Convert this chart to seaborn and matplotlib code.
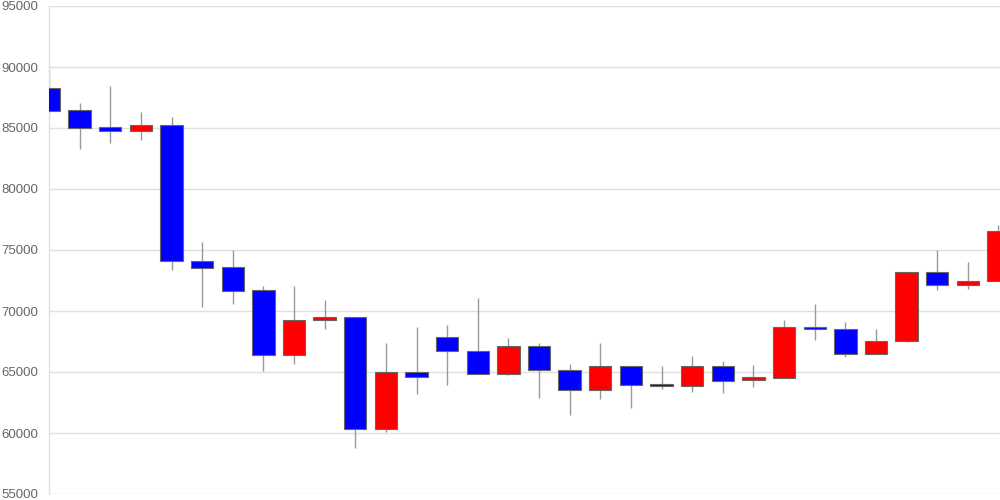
import matplotlib
matplotlib.use("Agg")
import matplotlib.pyplot as plt
import seaborn as sns
import numpy as np
import pandas as pd

# daily candles (open, close, high, low)
opens = [88250, 86450, 85080, 84730, 85245, 74120, 73580, 71700, 66400, 69240,
         69480, 60300, 64975, 67840, 66700, 64800, 67100, 65140, 63550, 65510,
         63990, 63880, 65470, 64320, 64540, 68710, 68550, 66450, 67540, 73220,
         72160, 72460]
closes = [86400, 85020, 84730, 85245, 74100, 73550, 71660, 66400, 69260, 69480,
          60300, 64975, 64620, 66700, 64810, 67110, 65140, 63550, 65510, 63930,
          63880, 65470, 64300, 64560, 68710, 68550, 66450, 67560, 73220, 72160,
          72460, 76560]
highs = [89750, 87020, 88440, 86310, 85900, 75630, 75000, 72020, 72020, 70900,
         69480, 67400, 68710, 68820, 71040, 67760, 67350, 65630, 67350, 65510,
         65490, 66310, 65900, 65570, 69260, 70570, 69100, 68520, 73220, 75000,
         73990, 77050]
lows = [86070, 83300, 83800, 84020, 73390, 70350, 70570, 65110, 65660, 68500,
        58740, 60110, 63170, 63960, 64810, 64780, 62890, 61500, 62760, 62070,
        63630, 63400, 63240, 63750, 64540, 67620, 66200, 66450, 67460, 71700,
        71830, 72460]

df = pd.DataFrame({"open": opens, "close": closes, "high": highs, "low": lows})
df["x"] = np.arange(len(df))
df["color"] = np.where(df["close"] >= df["open"], "#ff0000", "#0000ff")

sns.set_theme(style="whitegrid")
plt.rcParams["font.family"] = ["Liberation Sans", "DejaVu Sans"]

fig = plt.figure(figsize=(10, 5), dpi=100)
ax = fig.add_axes([0.049, 0.012, 0.951, 0.976])

# wicks
ax.vlines(df["x"], df["low"], df["high"], color="#999999", linewidth=1, zorder=2)
# bodies
body_lo = df[["open", "close"]].min(axis=1)
body_h = (df["open"] - df["close"]).abs().clip(lower=150)
ax.bar(df["x"], body_h, bottom=body_lo, width=0.73, color=df["color"],
       edgecolor="#666666", linewidth=0.8, zorder=3)

ax.set_xlim(0, 31.05)
ax.set_ylim(55000, 95000)
ax.set_yticks(np.arange(55000, 95001, 5000))
ax.set_yticklabels([str(v) for v in range(55000, 95001, 5000)])
ax.set_xticks([])
ax.grid(axis="y", color="#e0e0e0", linewidth=1)
ax.grid(axis="x", visible=False)
ax.tick_params(axis="y", labelsize=9.5, labelcolor="#666666", length=0, pad=8)
for side in ["top", "right", "bottom"]:
    ax.spines[side].set_visible(False)
ax.spines["left"].set_color("#e0e0e0")
ax.spines["left"].set_linewidth(1)

fig.savefig("out.png", dpi=100)
